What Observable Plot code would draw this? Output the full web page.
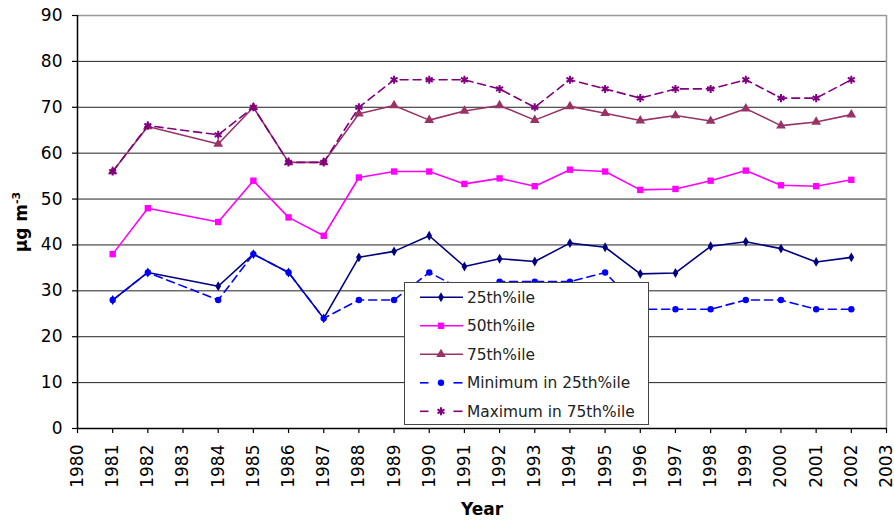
<!DOCTYPE html>
<html><head><meta charset="utf-8">
<script src="https://cdn.jsdelivr.net/npm/d3@7"></script>
<script src="https://cdn.jsdelivr.net/npm/@observablehq/plot@0.6"></script>
<style>body{margin:0;background:#fff} #chart{width:894px;height:523px}</style>
</head><body><div id="chart"></div>
<script>
const years = [1981,1982,1984,1985,1986,1987,1988,1989,1990,1991,1992,1993,1994,1995,1996,1997,1998,1999,2000,2001,2002];
const p25   = [28,34,31,38,34,24,37.3,38.6,42,35.3,37,36.4,40.4,39.5,33.7,33.9,39.7,40.7,39.2,36.3,37.3];
const p50   = [38,48,45,54,46,42,54.7,56,56,53.3,54.5,52.8,56.4,56,52,52.2,54,56.2,53,52.8,54.2];
const p75   = [56,65.8,62,70,58,58,68.6,70.4,67.2,69.2,70.4,67.2,70.2,68.7,67.1,68.2,67,69.7,66,66.8,68.4];
const min25 = [28,34,28,38,34,24,28,28,34,30,32,32,32,34,26,26,26,28,28,26,26];
const max75 = [56,66,64,70,58,58,70,76,76,76,74,70,76,74,72,74,74,76,72,72,76];

const seriesNames  = ["25th%ile","50th%ile","75th%ile","Minimum in 25th%ile","Maximum in 75th%ile"];
const seriesValues = [p25, p50, p75, min25, max75];
const seriesColors = ["#000080","#ff00ff","#993366","#0000ff","#800080"];
const seriesSymbols = ["diamond","square","triangle","circle","asterisk"];
const seriesR = [3, 3.6, 3.6, 3.2, 3.8];
const seriesDash = [null, null, null, "8,5", "8,5"];
const yTicks = d3.range(0, 91, 10);
const xTicks = d3.range(1980, 2004);
const xLabel = "Year";

const d3Symbols = {diamond: d3.symbolDiamond, square: d3.symbolSquare, triangle: d3.symbolTriangle, circle: d3.symbolCircle, asterisk: d3.symbolAsterisk};

const seriesMarks = seriesNames.flatMap((name, i) => {
  const data = years.map((yr, j) => ({year: yr, value: seriesValues[i][j]}));
  const isStroke = seriesSymbols[i] === "asterisk";
  return [
    Plot.line(data, {x: "year", y: "value", stroke: seriesColors[i], strokeWidth: 1.6,
      strokeDasharray: seriesDash[i] || undefined}),
    Plot.dot(data, {x: "year", y: "value", symbol: seriesSymbols[i], r: seriesR[i],
      fill: isStroke ? "none" : seriesColors[i], stroke: isStroke ? seriesColors[i] : "none",
      strokeWidth: isStroke ? 2 : undefined})
  ];
});

const svg = Plot.plot({
  width: 894, height: 523,
  marginLeft: 77, marginRight: 8, marginTop: 15, marginBottom: 95,
  style: {fontFamily: "DejaVu Sans", fontSize: "17px", color: "#000", background: "#fff"},
  x: {domain: [1980, 2003], label: null},
  y: {domain: [0, 90], label: null},
  marks: [
    Plot.ruleY(yTicks.filter(t => t > 0 && t < 90), {stroke: "#222", strokeWidth: 1}),
    Plot.ruleY([90], {stroke: "#999", strokeWidth: 1.5}),
    Plot.ruleX([2003], {stroke: "#999", strokeWidth: 1.5}),
    Plot.axisY(yTicks, {tickSize: 5, tickPadding: 10, tickFormat: d => String(d), strokeWidth: 1.2, fontSize: 17}),
    Plot.axisX(xTicks, {tickSize: 5, tickPadding: 11, tickRotate: -90, tickFormat: d => String(d), strokeWidth: 1.2, fontSize: 17}),
    Plot.ruleX([1980], {stroke: "#000", strokeWidth: 1.5}),
    Plot.ruleY([0], {stroke: "#000", strokeWidth: 1.5}),
    ...seriesMarks
  ]
});
document.getElementById("chart").appendChild(svg);

const s = d3.select(svg);
// axis titles
s.append("text").attr("x", 482).attr("y", 515).attr("text-anchor", "middle")
  .attr("font-weight", "bold").attr("font-size", 17).attr("fill", "#000").text(xLabel);
const yl = s.append("text").attr("transform", "translate(27,222) rotate(-90)").attr("text-anchor", "middle")
  .attr("font-weight", "bold").attr("font-size", 17).attr("fill", "#000");
yl.append("tspan").text("µg m");
yl.append("tspan").attr("dy", -7).attr("font-size", 11).text("-3");

// legend
const lg = s.append("g");
lg.append("rect").attr("x", 404.5).attr("y", 282.5).attr("width", 244).attr("height", 142)
  .attr("fill", "#fff").attr("stroke", "#444").attr("stroke-width", 1);
seriesNames.forEach((name, i) => {
  const cy = 297.3 + i * 28.5;
  if (seriesDash[i]) {
    lg.append("line").attr("x1", 420).attr("x2", 428.5).attr("y1", cy).attr("y2", cy)
      .attr("stroke", seriesColors[i]).attr("stroke-width", 1.6);
    lg.append("line").attr("x1", 453.5).attr("x2", 462.5).attr("y1", cy).attr("y2", cy)
      .attr("stroke", seriesColors[i]).attr("stroke-width", 1.6);
  } else {
    lg.append("line").attr("x1", 420).attr("x2", 463).attr("y1", cy).attr("y2", cy)
      .attr("stroke", seriesColors[i]).attr("stroke-width", 1.6);
  }
  const isStroke = seriesSymbols[i] === "asterisk";
  lg.append("path").attr("transform", `translate(441,${cy})`)
    .attr("d", d3.symbol(d3Symbols[seriesSymbols[i]], Math.PI * seriesR[i] * seriesR[i])())
    .attr("fill", isStroke ? "none" : seriesColors[i])
    .attr("stroke", isStroke ? seriesColors[i] : "none").attr("stroke-width", isStroke ? 2 : null);
  lg.append("text").attr("x", 467).attr("y", cy).attr("dy", "0.35em").attr("text-anchor", "start")
    .attr("font-size", 15.4).attr("fill", "#222").text(name);
});
</script></body></html>
